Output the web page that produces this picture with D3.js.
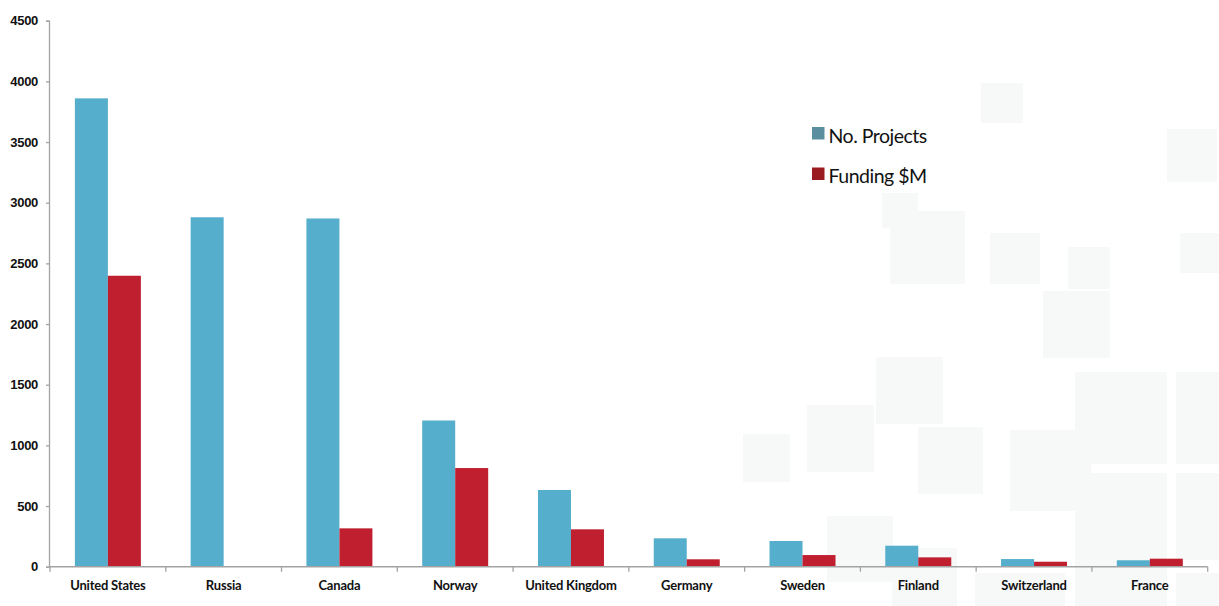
<!DOCTYPE html>
<html>
<head>
<meta charset="utf-8">
<script src="https://cdn.jsdelivr.net/npm/d3@7"></script>
<style>
  html, body { margin: 0; padding: 0; background: #fff; }
  svg { display: block; font-family: Lato, "Noto Sans", sans-serif; }
</style>
</head>
<body>
<svg id="chart" width="1219" height="606"></svg>
<script>
const COUNTRIES = ["United States", "Russia", "Canada", "Norway", "United Kingdom",
  "Germany", "Sweden", "Finland", "Switzerland", "France"];
const PROJECTS = [3860, 2880, 2870, 1205, 632, 234, 212, 173, 63, 53];
const FUNDING = [2398, 0, 316, 813, 308, 61, 96, 77, 41, 66];
const SERIES = ["No. Projects", "Funding $M"];
const Y_TICKS = [0, 500, 1000, 1500, 2000, 2500, 3000, 3500, 4000, 4500];

const BAR_COLORS = ["#55aecb", "#c01f2f"];
const KEY_COLORS = ["#5b8fa0", "#9b1c20"];
const AXIS_COLOR = "#a3a3a3";
const TILE_COLOR = "#f7f8f8";

// Faint decorative tiles behind the right half of the plot: [x0, y0, x1, y1]
const TILES = [
  [981, 83, 1023, 123], [1167, 129, 1217, 182], [882, 193, 918, 228],
  [890, 211, 965, 284], [990, 233, 1040, 284], [1068, 247, 1110, 289],
  [1180, 233, 1219, 273], [1043, 291, 1110, 358], [876, 357, 943, 424],
  [807, 405, 874, 472], [743, 434, 790, 482], [918, 427, 983, 494],
  [1010, 430, 1091, 511], [1075, 372, 1167, 464], [1176, 372, 1219, 464],
  [1075, 473, 1167, 606], [1176, 473, 1219, 560], [1176, 573, 1219, 606],
  [975, 573, 1065, 606], [827, 516, 893, 582], [892, 548, 957, 606]
];

const svg = d3.select("#chart");

svg.append("g")
  .selectAll("rect")
  .data(TILES)
  .join("rect")
  .attr("x", (d) => d[0])
  .attr("y", (d) => d[1])
  .attr("width", (d) => d[2] - d[0])
  .attr("height", (d) => d[3] - d[1])
  .attr("fill", TILE_COLOR);

const x = d3.scaleBand()
  .domain(COUNTRIES)
  .range([50, 1207.7])
  .paddingInner(0.43)
  .paddingOuter(0.215);

const xSeries = d3.scaleBand()
  .domain(SERIES)
  .range([0, x.bandwidth()]);

const y = d3.scaleLinear()
  .domain([0, 4500])
  .range([566.7, 20.7]);

const rows = COUNTRIES.map((c, i) => ({ country: c, values: [PROJECTS[i], FUNDING[i]] }));

// bars
svg.append("g")
  .selectAll("g")
  .data(rows)
  .join("g")
  .attr("transform", (d) => `translate(${x(d.country)},0)`)
  .selectAll("rect")
  .data((d) => d.values.map((v, j) => ({ key: SERIES[j], value: v, j })))
  .join("rect")
  .attr("x", (d) => xSeries(d.key))
  .attr("y", (d) => y(d.value))
  .attr("width", xSeries.bandwidth())
  .attr("height", (d) => y(0) - y(d.value))
  .attr("fill", (d) => BAR_COLORS[d.j]);

// y axis
const yAxis = svg.append("g")
  .attr("transform", "translate(49,0)")
  .call(d3.axisLeft(y).tickValues(Y_TICKS).tickSize(3).tickPadding(8).tickFormat(d3.format("d")));
yAxis.select(".domain").attr("stroke", AXIS_COLOR).attr("stroke-width", 1.3);
yAxis.selectAll(".tick line").attr("stroke", AXIS_COLOR).attr("stroke-width", 1.3);
yAxis.selectAll(".tick text")
  .attr("fill", "#111")
  .style("font-size", "13px")
  .style("font-weight", 700)
  .style("letter-spacing", "-0.3px");

// x axis: line along zero, ticks at the category boundaries
const xAxis = svg.append("g");
xAxis.append("line")
  .attr("x1", x.range()[0])
  .attr("x2", x.range()[1])
  .attr("y1", y(0))
  .attr("y2", y(0))
  .attr("stroke", AXIS_COLOR)
  .attr("stroke-width", 1.5);

const bounds = COUNTRIES.map((c) => x(c) - x.step() * x.paddingInner() / 2)
  .concat([x.range()[1]]);
xAxis.selectAll("line.tick")
  .data(bounds)
  .join("line")
  .attr("class", "tick")
  .attr("x1", (d) => d)
  .attr("x2", (d) => d)
  .attr("y1", y(0))
  .attr("y2", y(0) + 5)
  .attr("stroke", AXIS_COLOR)
  .attr("stroke-width", 1.3);

xAxis.selectAll("text")
  .data(COUNTRIES)
  .join("text")
  .attr("x", (d) => x(d) + x.bandwidth() / 2)
  .attr("y", 590)
  .attr("text-anchor", "middle")
  .attr("fill", "#111")
  .style("font-size", "13px")
  .style("font-weight", 700)
  .style("letter-spacing", "-0.2px")
  .text((d) => d);

// legend
const legend = svg.append("g").attr("transform", "translate(812,127)");
const item = legend.selectAll("g")
  .data(SERIES)
  .join("g")
  .attr("transform", (d, i) => `translate(0,${i * 40.5})`);
item.append("rect")
  .attr("width", 12.5)
  .attr("height", 12.5)
  .attr("fill", (d, i) => KEY_COLORS[i]);
item.append("text")
  .attr("x", 16.5)
  .attr("y", 15.5)
  .attr("fill", "#111")
  .style("font-size", "19.5px")
  .style("letter-spacing", "-0.5px")
  .text((d) => d);
</script>
</body>
</html>
